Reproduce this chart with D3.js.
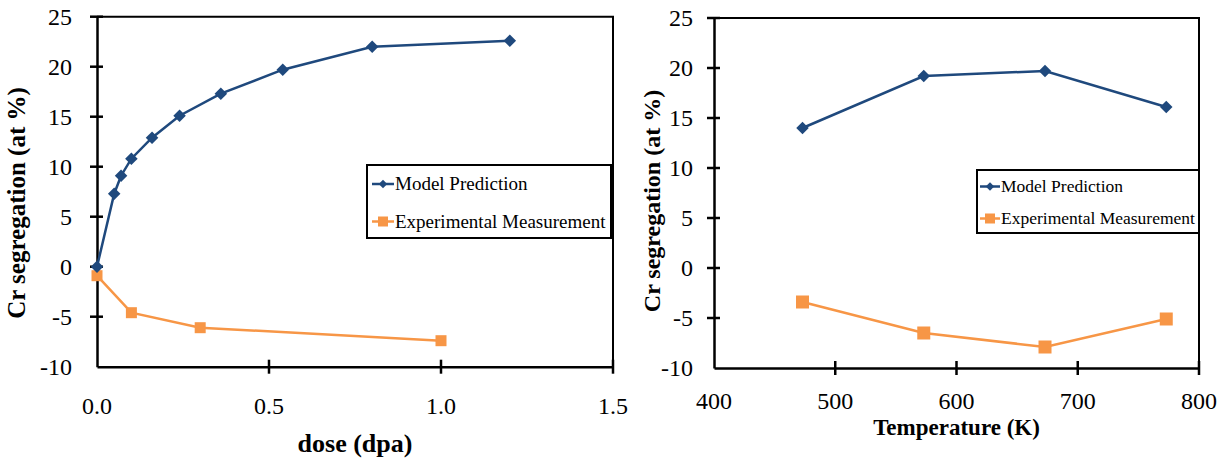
<!DOCTYPE html>
<html>
<head>
<meta charset="utf-8">
<script src="https://cdn.jsdelivr.net/npm/d3@7"></script>
<style>
  body { margin: 0; background: #fff; }
</style>
</head>
<body>
<svg id="chart" width="1228" height="462"></svg>
<script>
// ---- data ----
const doseModelX = [0, 0.05, 0.07, 0.1, 0.16, 0.24, 0.36, 0.54, 0.8, 1.2];
const doseModelY = [0, 7.3, 9.1, 10.8, 12.9, 15.1, 17.3, 19.7, 22.0, 22.6];
const doseExpX = [0, 0.1, 0.3, 1.0];
const doseExpY = [-0.9, -4.6, -6.1, -7.4];

const tempModelX = [473, 573, 673, 773];
const tempModelY = [14.0, 19.2, 19.7, 16.1];
const tempExpX = [473, 573, 673, 773];
const tempExpY = [-3.4, -6.5, -7.9, -5.1];

const yTicks = [-10, -5, 0, 5, 10, 15, 20, 25];
const doseTicks = [0, 0.5, 1.0, 1.5];
const tempTicks = [400, 500, 600, 700, 800];
const seriesNames = ['Model Prediction', 'Experimental Measurement'];

const blue = '#1f497d';
const orange = '#f79646';
const FONT = '"Liberation Serif", "Times New Roman", "DejaVu Serif", serif';

const svg = d3.select('#chart');

// zip x/y arrays into point objects
function zip(xs, ys) {
  return xs.map((x, i) => ({ x: x, y: ys[i] }));
}

function label(g) {
  return g.append('text').attr('font-family', FONT).style('font-family', FONT).attr('fill', '#000');
}

function drawPanel(p) {
  const x = d3.scaleLinear().domain(p.xDomain).range([p.left, p.right]);
  const y = d3.scaleLinear().domain([-10, 25]).range([p.bottom, p.top]);
  const g = svg.append('g');

  // frame (top + right)
  g.append('path')
    .attr('d', `M${p.left},${p.top}H${p.right}V${p.bottom}`)
    .attr('fill', 'none').attr('stroke', '#000').attr('stroke-width', 2);

  // axes lines, then cross ticks drawn by hand
  const yAxis = g.append('g').attr('transform', `translate(${p.left},0)`)
    .call(d3.axisLeft(y).tickValues(yTicks).tickSize(0).tickFormat(''));
  yAxis.select('.domain').attr('stroke-width', 2.5);
  g.selectAll('.ytick').data(yTicks.slice(1)).enter().append('line')
    .attr('x1', p.left - 7).attr('x2', p.left + 6)
    .attr('y1', d => y(d)).attr('y2', d => y(d))
    .attr('stroke', '#000').attr('stroke-width', 2.5);
  yTicks.forEach(t => {
    label(g).attr('x', p.yLabelX).attr('y', y(t))
      .attr('dy', '0.34em').attr('text-anchor', 'end')
      .attr('font-size', 24).text(t);
  });

  const xAxis = g.append('g').attr('transform', `translate(0,${p.bottom})`)
    .call(d3.axisBottom(x).tickValues(p.xTicks).tickSize(0).tickFormat(''));
  xAxis.select('.domain').attr('stroke-width', 2.5);
  g.selectAll('.xtick').data(p.xTicks.slice(1)).enter().append('line')
    .attr('x1', d => x(d)).attr('x2', d => x(d))
    .attr('y1', p.bottom - 7).attr('y2', p.bottom + 7)
    .attr('stroke', '#000').attr('stroke-width', 2.5);
  p.xTicks.forEach(t => {
    label(g).attr('x', x(t)).attr('y', p.xLabelY)
      .attr('text-anchor', 'middle').attr('font-size', 24)
      .text(p.xFormat(t));
  });

  // axis titles
  label(g)
    .attr('x', (p.left + p.right) / 2).attr('y', p.xTitleY)
    .attr('text-anchor', 'middle').attr('font-weight', 'bold')
    .attr('font-size', p.titleSize).text(p.xTitle);
  label(g)
    .attr('transform', `translate(${p.yTitleX},${p.yTitleCY}) rotate(-90)`)
    .attr('text-anchor', 'middle').attr('font-weight', 'bold')
    .attr('font-size', p.yTitleSize).text('Cr segregation (at %)');

  const line = d3.line().x(d => x(d.x)).y(d => y(d.y));
  const model = zip(p.modelX, p.modelY);
  const exp = zip(p.expX, p.expY);

  g.append('path').datum(exp).attr('d', line)
    .attr('fill', 'none').attr('stroke', orange).attr('stroke-width', 2.5);
  g.append('path').datum(model).attr('d', line)
    .attr('fill', 'none').attr('stroke', blue).attr('stroke-width', 2.5);

  const sq = p.squareSize;
  g.selectAll('.sq').data(exp).enter().append('rect')
    .attr('x', d => x(d.x) - sq / 2).attr('y', d => y(d.y) - sq / 2)
    .attr('width', sq).attr('height', sq).attr('fill', orange);
  const diamond = d3.symbol().type(d3.symbolDiamond2).size(p.diamondSize);
  g.selectAll('.dm').data(model).enter().append('path')
    .attr('transform', d => `translate(${x(d.x)},${y(d.y)})`)
    .attr('d', diamond).attr('fill', blue);

  // legend
  const L = p.legend;
  g.append('rect')
    .attr('x', L.x0).attr('y', L.y0)
    .attr('width', L.x1 - L.x0).attr('height', L.y1 - L.y0)
    .attr('fill', '#fff').attr('stroke', '#000').attr('stroke-width', 2);
  const colors = [blue, orange];
  seriesNames.forEach((name, i) => {
    const cy = L.rows[i];
    g.append('line')
      .attr('x1', L.sx0).attr('x2', L.sx1).attr('y1', cy).attr('y2', cy)
      .attr('stroke', colors[i]).attr('stroke-width', 2.5);
    const mx = (L.sx0 + L.sx1) / 2;
    if (i === 0) {
      g.append('path').attr('transform', `translate(${mx},${cy})`)
        .attr('d', d3.symbol().type(d3.symbolDiamond2).size(45)).attr('fill', blue);
    } else {
      g.append('rect').attr('x', mx - 5).attr('y', cy - 5)
        .attr('width', 10).attr('height', 10).attr('fill', orange);
    }
    label(g)
      .attr('x', L.sx1 + 1).attr('y', cy).attr('dy', '0.34em')
      .attr('font-size', L.fontSize).text(name);
  });
}

drawPanel({
  left: 97, right: 613, top: 16.7, bottom: 366.7,
  xDomain: [0, 1.5], xTicks: doseTicks, xFormat: d => d.toFixed(1),
  yLabelX: 72, xLabelY: 414, xTitleY: 452, xTitle: 'dose (dpa)',
  titleSize: 26, yTitleSize: 25, yTitleX: 25, yTitleCY: 203,
  modelX: doseModelX, modelY: doseModelY, expX: doseExpX, expY: doseExpY,
  squareSize: 11, diamondSize: 100,
  legend: { x0: 367, x1: 611, y0: 165, y1: 238, rows: [184, 221.5],
            sx0: 372, sx1: 394, fontSize: 19 }
});

drawPanel({
  left: 714, right: 1199, top: 18, bottom: 368,
  xDomain: [400, 800], xTicks: tempTicks, xFormat: d => d,
  yLabelX: 693, xLabelY: 409, xTitleY: 435, xTitle: 'Temperature (K)',
  titleSize: 23, yTitleSize: 24, yTitleX: 660, yTitleCY: 201,
  modelX: tempModelX, modelY: tempModelY, expX: tempExpX, expY: tempExpY,
  squareSize: 13, diamondSize: 100,
  legend: { x0: 977, x1: 1199, y0: 170, y1: 233, rows: [186.5, 218.5],
            sx0: 980, sx1: 1000, fontSize: 17.5 }
});
</script>
</body>
</html>
